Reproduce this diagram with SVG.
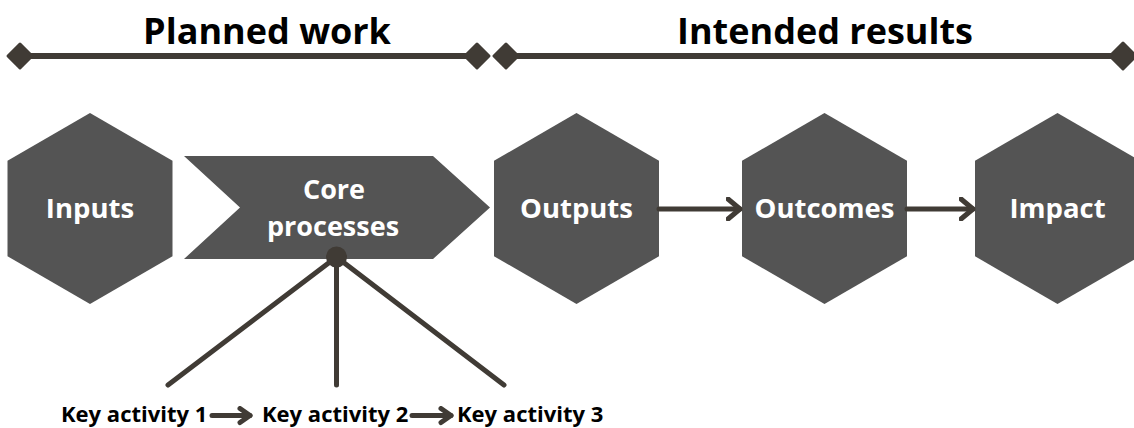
<svg xmlns="http://www.w3.org/2000/svg" width="1134" height="428" viewBox="0 0 1134 428">
<defs>
<style>
.hex{fill:#545454}
.bar{stroke:#403b35;stroke-width:6;fill:none}
.dia{fill:#403b35;stroke:#403b35;stroke-width:3;stroke-linejoin:round}
.con{stroke:#403b35;stroke-width:5;fill:none;stroke-linecap:round;stroke-linejoin:round}
.head{font-family:"Open Sans","Liberation Sans",sans-serif;font-weight:700;font-size:36px;fill:#000;text-anchor:middle}
.lbl{font-family:"Open Sans","Liberation Sans",sans-serif;font-weight:700;font-size:27.5px;fill:#fff;text-anchor:middle}
.ka{font-family:"Open Sans","Liberation Sans",sans-serif;font-weight:700;font-size:22px;fill:#000}
</style>
<marker id="ah" viewBox="0 0 16 24" refX="14" refY="12" markerUnits="userSpaceOnUse" markerWidth="16" markerHeight="24" orient="auto">
<polyline points="2,2 14,12 2,22" fill="none" stroke="#403b35" stroke-width="5" stroke-linecap="round" stroke-linejoin="round"/>
</marker>
<marker id="ahs" viewBox="0 0 16 20" refX="13" refY="10" markerUnits="userSpaceOnUse" markerWidth="16" markerHeight="20" orient="auto">
<polyline points="3,3 13,10 3,17" fill="none" stroke="#403b35" stroke-width="5" stroke-linecap="round" stroke-linejoin="round"/>
</marker>
</defs>
<g id="brackets">
<line class="bar" x1="20" y1="56" x2="477" y2="56"/>
<polygon class="dia" points="20,44 32,56 20,68 8,56"/>
<polygon class="dia" points="477,44 489,56 477,68 465,56"/>
<line class="bar" x1="506" y1="56" x2="1123" y2="56"/>
<polygon class="dia" points="506,44 518,56 506,68 494,56"/>
<polygon class="dia" points="1123,43 1136,56 1123,69 1110,56"/>
<text class="head" x="267" y="44">Planned work</text>
<text class="head" x="825" y="44">Intended results</text>
</g>
<g id="inputs">
<polygon class="hex" points="90,113 172.5,160.75 172.5,256.25 90,304 7.5,256.25 7.5,160.75"/>
<text class="lbl" x="90" y="218">Inputs</text>
</g>
<g id="core-processes">
<polygon class="hex" points="184,156 433,156 490,207.5 433,259 184,259 240,207.5"/>
<text class="lbl" x="334" y="198.5" style="font-size:27px">Core</text>
<text class="lbl" x="333" y="236" style="font-size:27px">processes</text>
</g>
<g id="outputs">
<polygon class="hex" points="576.5,113 659,160.75 659,256.25 576.5,304 494,256.25 494,160.75"/>
<text class="lbl" x="576.5" y="218">Outputs</text>
</g>
<g id="outcomes">
<polygon class="hex" points="824.5,113 907,160.75 907,256.25 824.5,304 742,256.25 742,160.75"/>
<text class="lbl" x="824.5" y="218">Outcomes</text>
</g>
<g id="impact">
<polygon class="hex" points="1057.5,113 1140,160.75 1140,256.25 1057.5,304 975,256.25 975,160.75"/>
<text class="lbl" x="1057.5" y="218">Impact</text>
</g>
<g id="key-activities">
<text class="ka" x="61" y="422">Key activity 1</text>
<text class="ka" x="262" y="422">Key activity 2</text>
<text class="ka" x="457" y="422">Key activity 3</text>
</g>
<g id="connectors">
<line class="con" x1="659" y1="209" x2="740" y2="209" marker-end="url(#ah)"/>
<line class="con" x1="907" y1="209" x2="973" y2="209" marker-end="url(#ah)"/>
<line class="con" x1="336.5" y1="257" x2="168" y2="385"/>
<line class="con" x1="336.5" y1="257" x2="336.5" y2="385"/>
<line class="con" x1="336.5" y1="257" x2="504" y2="385"/>
<circle cx="336.5" cy="257" r="10.5" fill="#403b35"/>
<line class="con" x1="212" y1="415.5" x2="250" y2="415.5" marker-end="url(#ahs)"/>
<line class="con" x1="412" y1="415.5" x2="451" y2="415.5" marker-end="url(#ahs)"/>
</g>
</svg>
